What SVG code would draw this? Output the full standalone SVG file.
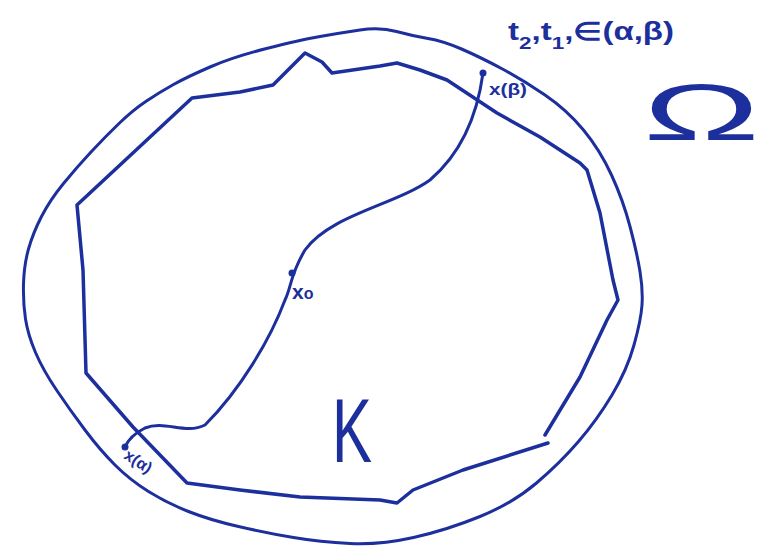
<svg xmlns="http://www.w3.org/2000/svg" width="761" height="549" viewBox="0 0 761 549">
<style>
.ln{fill:none;stroke:#1c2f9c;stroke-linecap:round;stroke-linejoin:round}
.tx{fill:#1c2f9c;font-family:"Liberation Sans",Arial,sans-serif}
</style>
<rect width="761" height="549" fill="#ffffff"/>
<g id="omega-boundary">
<path class="ln" stroke-width="3" d="M396.5,31.5 Q413,36 428,38.5 Q443,41 461.5,49 Q480,57 501.5,68.5 Q523,80 545,95 Q567,110 583.5,130 Q600,150 611.5,175 Q623,200 630,226.5 Q637,253 640,271.5 Q643,290 642,305 Q641,320 634,345 Q627,370 612,395 Q597,420 578.5,441.5 Q560,463 536.5,483 Q513,503 480,516.5 Q447,530 413.5,537.5 Q380,545 350,543.5 Q320,542 293.5,537.5 Q267,533 238.5,526.5 Q210,520 188.5,511.5 Q167,503 148.5,491.5 Q130,480 115,465 Q100,450 85,430 Q70,410 56.5,390 Q43,370 35.5,352.5 Q28,335 25.5,319 Q23,303 23.5,284 Q24,265 28.5,249 Q33,233 41.5,216.5 Q50,200 63.5,183.5 Q77,167 91,152 Q105,137 119,123.5 Q133,110 146.5,101 Q160,92 173.5,84.5 Q187,77 210,67 Q233,57 266.5,48.5 Q300,40 320,36.5 Q340,33 360,30 Q380,27 396.5,31.5 Z"/>
</g>
<g id="K-boundary">
<polyline class="ln" stroke-width="3.5" points="545,435 580,377 607,320 618,300 613,280 600,213 587,170 580,163 540,137 497,113 447,80 420,70 397,63 380,66 332,73 322,62 305,53 273,85 240,92 192,98 77,205 83,270 86,373 133,427 187,483 240,490 300,497 380,500 397,503 413,490 463,470 548,443"/>
</g>
<g id="connectors">
<path class="ln" stroke-width="3" d="M483,73 C478,110 465,150 430,180 C395,205 330,215 305,250 C290,275 292,285 285,300 C270,340 240,390 205,425 C185,435 165,420 145,428 C135,433 128,440 125,447"/>
</g>
<g id="x-beta">
<circle cx="483" cy="73" r="3.5" fill="#1c2f9c"/>
<text class="tx" x="489" y="95" font-size="17" font-weight="bold" textLength="38" lengthAdjust="spacingAndGlyphs">x(β)</text>
</g>
<g id="x-zero">
<circle cx="292" cy="273" r="3.5" fill="#1c2f9c"/>
<text class="tx" x="292" y="299" font-size="21" font-weight="bold">x<tspan font-size="16">o</tspan></text>
</g>
<g id="x-alpha">
<circle cx="125" cy="447" r="3.5" fill="#1c2f9c"/>
<text class="tx" x="0" y="0" font-size="16" font-weight="bold" transform="translate(123,458) rotate(33)">x(α)</text>
</g>
<g id="t-label">
<text class="tx" x="508" y="40" font-size="25" font-weight="bold" textLength="166" lengthAdjust="spacingAndGlyphs">t<tspan font-size="17" dy="9">2</tspan><tspan dy="-9">,t</tspan><tspan font-size="17" dy="9">1</tspan><tspan dy="-9">,∈(α,β)</tspan></text>
</g>
<g id="K-label">
<text class="tx" x="332" y="462" font-size="90" textLength="40" lengthAdjust="spacingAndGlyphs">K</text>
</g>
<g id="Omega-label">
<text class="tx" x="643" y="140" font-size="80" textLength="117" lengthAdjust="spacingAndGlyphs">Ω</text>
</g>
</svg>
